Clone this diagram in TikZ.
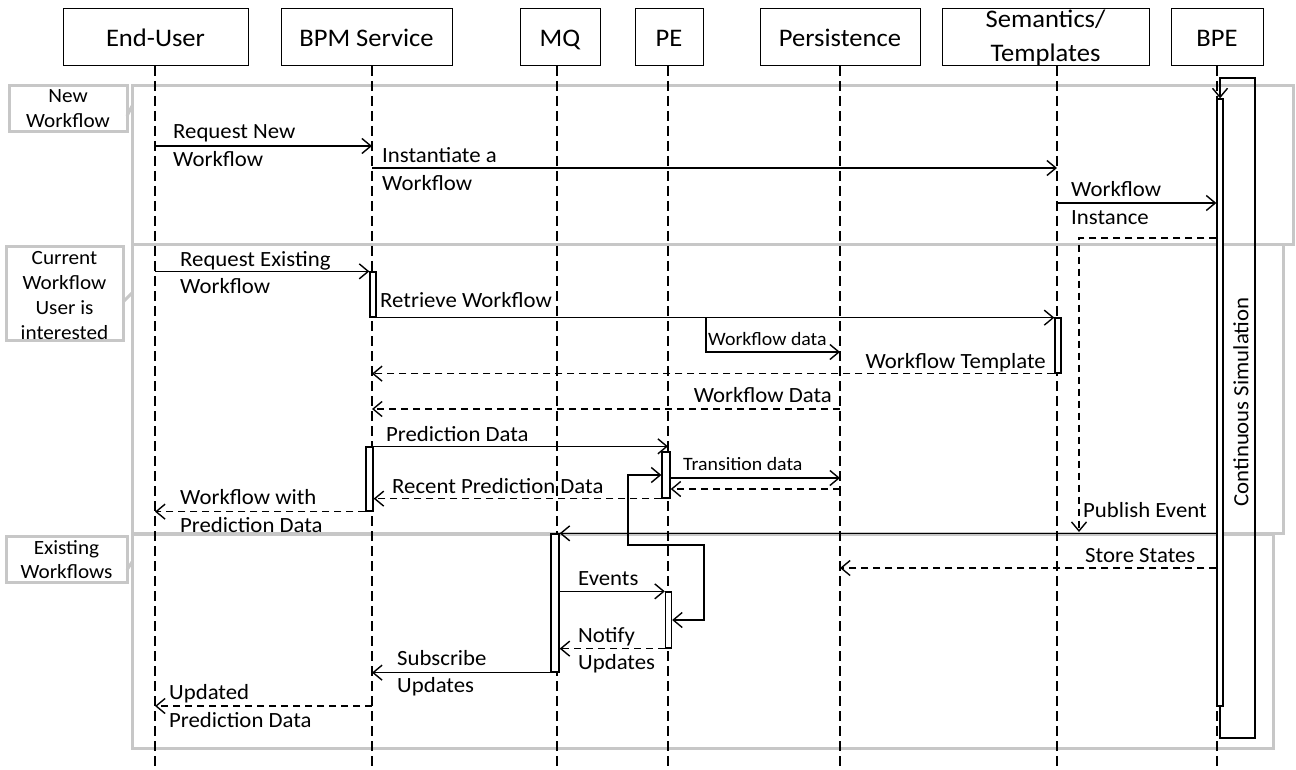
\documentclass[tikz,border=0pt]{standalone}
\usepackage{fontspec}
\setmainfont{Carlito}[FakeStretch=1.05]
\usetikzlibrary{arrows.meta}
\begin{document}
\begin{tikzpicture}[x=1pt,y=-1pt,
  hdr/.style={draw, line width=1pt, inner sep=0pt},
  hdrtxt/.style={inner sep=0pt, font=\fontsize{25.3}{30}\selectfont},
  life/.style={line width=1.5pt, dash pattern=on 10pt off 5pt},
  bar/.style={draw, fill=white, line width=1.3pt, inner sep=0pt},
  tip/.style={-{Straight Barb[length=9pt,width=15pt,line width=1.4pt]}},
  msg/.style={draw, line width=1.6pt, tip},
  ret/.style={msg, dash pattern=on 7pt off 5pt},
  txt/.style={inner sep=0pt, font=\fontsize{21.7}{26}\selectfont},
  small/.style={inner sep=0pt, font=\fontsize{18.9}{22}\selectfont},
  frm/.style={draw=black!22, line width=3pt},
  flbl/.style={draw=black!22, line width=3pt, fill=white},
  ftxt/.style={inner sep=0pt, font=\fontsize{20.2}{24}\selectfont}
]
\useasboundingbox (0,0) rectangle (1296,770);

% frames
\draw[frm] (132,86) rectangle (1293,245);
\draw[frm] (132,245) rectangle (1283,533);
\draw[frm] (132,534) rectangle (1273,748);

% frame labels
\draw[flbl] (9,86) rectangle (127,132);
\draw[frm] (127,116) -- (132,106);
\node[ftxt, anchor=base] (fl1a) at (68,103) {New};
\node[ftxt, anchor=base] (fl1b) at (68,128) {Workflow};

\draw[flbl] (6,247) rectangle (123,340);
\draw[frm] (123,302) -- (132,293);
\node[ftxt, anchor=base] (fl2a) at (64.5,265) {Current};
\node[ftxt, anchor=base] (fl2b) at (64.5,289) {Workflow};
\node[ftxt, anchor=base] (fl2c) at (64.5,314) {User is};
\node[ftxt, anchor=base] (fl2d) at (64.5,339) {interested};

\draw[flbl] (6,536) rectangle (127,582);
\draw[frm] (127,570) -- (132,562);
\node[ftxt, anchor=base] (fl3a) at (66.5,554) {Existing};
\node[ftxt, anchor=base] (fl3b) at (66.5,578) {Workflows};

% headers
\node[hdr, minimum width=185, minimum height=57] (eu) at (155.5,37.5) {};
\node[hdr, minimum width=171, minimum height=57] (bpm) at (366.5,37.5) {};
\node[hdr, minimum width=80, minimum height=57] (mq) at (560,37.5) {};
\node[hdr, minimum width=68, minimum height=57] (pe) at (669,37.5) {};
\node[hdr, minimum width=160, minimum height=57] (per) at (840,37.5) {};
\node[hdr, minimum width=207, minimum height=57] (sem) at (1045.5,37.5) {};
\node[hdr, minimum width=92, minimum height=57] (bpe) at (1217,37.5) {};
\node[hdrtxt, anchor=base] (euT) at (155.5,47) {End-User};
\node[hdrtxt, anchor=base] (bpmT) at (366.5,47) {BPM Service};
\node[hdrtxt, anchor=base] (mqT) at (560,47) {MQ};
\node[hdrtxt, anchor=base] (peT) at (669,47) {PE};
\node[hdrtxt, anchor=base] (perT) at (840,47) {Persistence};
\node[hdrtxt, anchor=base] (semA) at (1045.5,28) {Semantics/};
\node[hdrtxt, anchor=base] (semB) at (1045.5,62) {Templates};
\node[hdrtxt, anchor=base] (bpeT) at (1217,47) {BPE};

% lifeline anchors
\coordinate (EU) at (155,66);
\coordinate (BPM) at (372,66);
\coordinate (MQ) at (557,66);
\coordinate (PE) at (668,66);
\coordinate (PER) at (840,66);
\coordinate (SEM) at (1057,66);
\coordinate (BPE) at (1217,66);

\foreach \l in {EU,BPM,MQ,PE,PER,SEM,BPE}
  \draw[life] (\l) -- (\l |- 0,770);

% activation bars
\node[bar, minimum width=6, minimum height=45] (a1) at (373,294.5) {};
\node[bar, minimum width=6, minimum height=55] (a2) at (1058,345.5) {};
\node[bar, minimum width=7, minimum height=64] (a3) at (369.5,479) {};
\node[bar, minimum width=8, minimum height=46] (a4) at (666,475) {};
\node[bar, minimum width=8, minimum height=138] (a5) at (555,603) {};
\node[bar, minimum width=6, minimum height=56] (a6) at (668.5,620) {};
\node[bar, minimum width=6, minimum height=607] (a7) at (1220,402.5) {};

% BPE continuous simulation loop
\coordinate (csA) at (1255,738);
\coordinate (csB) at (1220,78);
\draw[msg] (a7.south) |- (csA) |- (csB) -- (a7.north);
\node[txt, rotate=90] (cs) at (1241,402) {Continuous Simulation};

% New workflow
\draw[msg] (EU |- 0,146) -- (BPM |- 0,146);
\node[txt, anchor=base west] (t1a) at (173,139) {Request New};
\node[txt, anchor=base west] (t1b) at (173,167) {Workflow};

\draw[msg] (BPM |- 0,168) -- (SEM |- 0,168);
\node[txt, anchor=base west] (t2a) at (382,163) {Instantiate a};
\node[txt, anchor=base west] (t2b) at (382,191) {Workflow};

\draw[msg] (SEM |- 0,203) -- (a7.west |- 0,203);
\node[txt, anchor=base west] (t3a) at (1071,197) {Workflow};
\node[txt, anchor=base west] (t3b) at (1071,225) {Instance};

\coordinate (pubEnd) at (1079,532);
\draw[ret] (a7.west |- 0,238) -| (pubEnd);
\node[txt, anchor=base west] (t4) at (1083,517) {Publish Event};

% Current workflow
\draw[msg] (EU |- a1.north) -- (a1.north west);
\node[txt, anchor=base west] (t5a) at (180,266) {Request Existing};
\node[txt, anchor=base west] (t5b) at (180,293) {Workflow};

\draw[msg] (a1.south east) -- (a1.south east -| a2.west);
\node[txt, anchor=base west] (t6) at (380,307) {Retrieve Workflow};

\coordinate (wdStart) at (706,318);
\draw[msg] (wdStart) |- (PER |- 0,352);
\node[small, anchor=base west] (t7) at (708,345) {Workflow data};

\draw[ret] (a2.south west) -- (BPM |- a2.south);
\node[txt, anchor=base east] (t8) at (1046,368) {Workflow Template};

\draw[ret] (PER |- 0,409) -- (BPM |- 0,409);
\node[txt, anchor=base east] (t9) at (832,402) {Workflow Data};

\draw[msg] (a3.north east) -- (PE |- a3.north);
\node[txt, anchor=base west] (t10) at (386,441) {Prediction Data};

\draw[msg] (a4.east |- 0,478) -- (PER |- 0,478);
\node[small, anchor=base west] (t11) at (683,470) {Transition data};
\draw[ret] (PER |- 0,489) -- (a4.east |- 0,489);

\draw[ret] (a4.south west) -- (a3.east |- a4.south);
\node[txt, anchor=base west] (t12) at (392,493) {Recent Prediction Data};

\draw[ret] (a3.south west) -- (EU |- a3.south);
\node[txt, anchor=base west] (t13a) at (180,504) {Workflow with};
\node[txt, anchor=base west] (t13b) at (180,532) {Prediction Data};

% self loop PE
\coordinate (lpA) at (704,545);
\coordinate (lpB) at (628,475);
\draw[draw, line width=1.6pt, {Straight Barb[length=9pt,width=15pt,line width=1.4pt]}-{Straight Barb[length=9pt,width=15pt,line width=1.4pt]}]
  (a6.east |- 0,620) -| (lpA) -| (lpB) -- (a4.west |- lpB);

% Existing workflows
\draw[msg] (a7.west |- a5.north) -- (a5.north east);

\draw[ret] (a7.west |- 0,568) -- (PER |- 0,568);
\node[txt, anchor=base west] (t14) at (1085,562) {Store States};

\draw[msg] (a5.east |- a6.north) -- (a6.north west);
\node[txt, anchor=base west] (t15) at (578,585) {Events};

\draw[ret] (a6.south west) -- (a5.east |- a6.south);
\node[txt, anchor=base west] (t16a) at (578,642) {Notify};
\node[txt, anchor=base west] (t16b) at (578,669) {Updates};

\draw[msg] (a5.south west) -- (BPM |- a5.south);
\node[txt, anchor=base west] (t17a) at (397,665) {Subscribe};
\node[txt, anchor=base west] (t17b) at (397,692) {Updates};

\draw[ret] (BPM |- 0,706) -- (EU |- 0,706);
\node[txt, anchor=base west] (t18a) at (169,699) {Updated};
\node[txt, anchor=base west] (t18b) at (169,727) {Prediction Data};

\end{tikzpicture}
\end{document}
